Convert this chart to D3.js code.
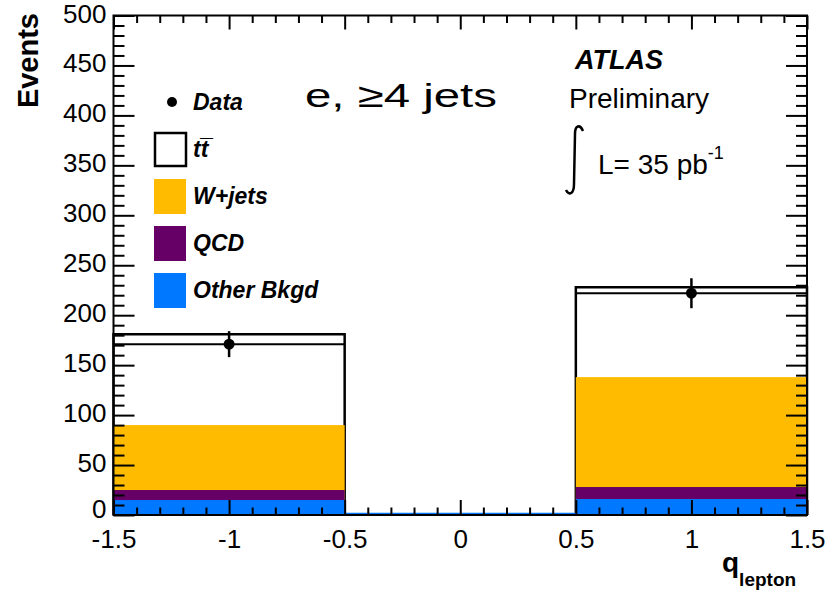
<!DOCTYPE html>
<html>
<head>
<meta charset="utf-8">
<script src="https://cdn.jsdelivr.net/npm/d3@7"></script>
<style>
  html, body { margin: 0; padding: 0; background: #fff; }
  svg { display: block; }
  text { font-family: "Liberation Sans", Arial, Helvetica, sans-serif; }
</style>
</head>
<body>
<svg id="chart" width="838" height="592"></svg>
<script>
// ---------------- data ----------------
const binEdges = [-1.5, -0.5, 0.5, 1.5];
const otherBkgd = [15, 0, 16];
const qcd = [10, 0, 12];
const wjets = [65, 0, 110];
const ttbar = [91, 0, 90];
const dataX = [-1, 1];
const dataY = [171, 222];
const dataErr = [13, 15];
const xTicks = [-1.5, -1, -0.5, 0, 0.5, 1, 1.5];
const yTicks = [0, 50, 100, 150, 200, 250, 300, 350, 400, 450, 500];
const seriesNames = ["Other Bkgd", "QCD", "W+jets", "tt"];
const seriesColors = ["#0078ff", "#660066", "#ffbb00", "#ffffff"];

// ---------------- layout ----------------
const svg = d3.select("#chart");
const W = 838, H = 592;
const pLeft = 113.5, pRight = 807, pTop = 15.5, pBottom = 515;

const x = d3.scaleLinear().domain([-1.5, 1.5]).range([pLeft, pRight]);
const y = d3.scaleLinear().domain([0, 500]).range([pBottom, pTop]);

svg.append("rect").attr("width", W).attr("height", H).attr("fill", "#fff");

const table = binEdges.slice(0, -1).map((e, i) => ({
  x0: e, x1: binEdges[i + 1],
  "Other Bkgd": otherBkgd[i], "QCD": qcd[i], "W+jets": wjets[i], "tt": ttbar[i]
}));
const stack = d3.stack().keys(seriesNames)(table);

const g = svg.append("g");

stack[3].forEach(d => {
  if (d[1] <= 0) return;
  g.append("path")
    .attr("d", `M${x(d.data.x0)},${y(0)} V${y(d[1])} H${x(d.data.x1)} V${y(0)}`)
    .attr("fill", "#fff").attr("stroke", "#000").attr("stroke-width", 2.5);
});

[2, 1, 0].forEach(k => {
  stack[k].forEach(d => {
    if (d[1] <= 0) return;
    g.append("rect")
      .attr("x", x(d.data.x0)).attr("width", x(d.data.x1) - x(d.data.x0))
      .attr("y", y(d[1])).attr("height", y(0) - y(d[1]))
      .attr("fill", seriesColors[k]);
  });
});

table.forEach(d => {
  const tot = d["Other Bkgd"] + d["QCD"] + d["W+jets"] + d["tt"];
  if (tot === 0) {
    g.append("line").attr("x1", x(d.x0)).attr("x2", x(d.x1))
      .attr("y1", y(0) - 1).attr("y2", y(0) - 1)
      .attr("stroke", "#0078ff").attr("stroke-width", 2.5);
  }
});

dataX.forEach((dx, i) => {
  const bi = d3.bisectRight(binEdges, dx) - 1;
  g.append("line").attr("x1", x(binEdges[bi])).attr("x2", x(binEdges[bi + 1]))
    .attr("y1", y(dataY[i])).attr("y2", y(dataY[i]))
    .attr("stroke", "#000").attr("stroke-width", 2);
  g.append("line").attr("x1", x(dx)).attr("x2", x(dx))
    .attr("y1", y(dataY[i] - dataErr[i])).attr("y2", y(dataY[i] + dataErr[i]))
    .attr("stroke", "#000").attr("stroke-width", 2.5);
  g.append("circle").attr("cx", x(dx)).attr("cy", y(dataY[i])).attr("r", 5.5).attr("fill", "#000");
});

// ---------------- axes ----------------
const minorX = d3.range(-15, 16).map(v => v / 10).filter(v => Math.abs(v * 2 - Math.round(v * 2)) > 1e-6);
const minorY = d3.range(0, 501, 10).filter(v => v % 50 !== 0);
const plainFmt = d => String(d);

function styleAxis(sel) {
  sel.select(".domain").remove();
  sel.selectAll(".tick line").attr("stroke", "#000").attr("stroke-width", 2);
  sel.selectAll("text").attr("fill", "#000").attr("font-size", 26)
    .attr("font-family", '"Liberation Sans", Arial, sans-serif');
}

svg.append("g").attr("transform", `translate(0,${pBottom})`)
  .call(d3.axisBottom(x).tickValues(xTicks).tickSize(-15).tickPadding(15).tickFormat(plainFmt))
  .call(styleAxis);
svg.append("g").attr("transform", `translate(0,${pBottom})`)
  .call(d3.axisBottom(x).tickValues(minorX).tickSize(-7.5).tickFormat(""))
  .call(styleAxis);
svg.append("g").attr("transform", `translate(0,${pTop})`)
  .call(d3.axisTop(x).tickValues(xTicks).tickSize(-14).tickFormat(""))
  .call(styleAxis);
svg.append("g").attr("transform", `translate(0,${pTop})`)
  .call(d3.axisTop(x).tickValues(minorX).tickSize(-7.5).tickFormat(""))
  .call(styleAxis);
const yAx = svg.append("g").attr("transform", `translate(${pLeft},0)`)
  .call(d3.axisLeft(y).tickValues(yTicks).tickSize(-21).tickPadding(7).tickFormat(plainFmt))
  .call(styleAxis);
yAx.selectAll("text").attr("dy", "0.25em");
yAx.selectAll(".tick").filter(d => d === 0).select("text").attr("y", -4);
svg.append("g").attr("transform", `translate(${pLeft},0)`)
  .call(d3.axisLeft(y).tickValues(minorY).tickSize(-11).tickFormat(""))
  .call(styleAxis);
svg.append("g").attr("transform", `translate(${pRight},0)`)
  .call(d3.axisRight(y).tickValues(yTicks).tickSize(-21).tickFormat(""))
  .call(styleAxis);
svg.append("g").attr("transform", `translate(${pRight},0)`)
  .call(d3.axisRight(y).tickValues(minorY).tickSize(-11).tickFormat(""))
  .call(styleAxis);

svg.append("rect").attr("x", pLeft).attr("y", pTop)
  .attr("width", pRight - pLeft).attr("height", pBottom - pTop)
  .attr("fill", "none").attr("stroke", "#000").attr("stroke-width", 2);

// ---------------- titles ----------------
svg.append("text")
  .attr("transform", `translate(38,13) rotate(-90)`)
  .attr("text-anchor", "end").attr("font-size", 29).attr("font-weight", "bold")
  .text("Events");

const xt = svg.append("text").attr("x", 722).attr("y", 572)
  .attr("font-size", 28).attr("font-weight", "bold");
xt.append("tspan").text("q");
xt.append("tspan").attr("dy", 14).attr("font-size", 19).text("lepton");

// ---------------- legend ----------------
const legRows = [
  { name: "Data", type: "dot" },
  { name: "tt", type: "box", color: "#fff" },
  { name: "W+jets", type: "box", color: seriesColors[2] },
  { name: "QCD", type: "box", color: seriesColors[1] },
  { name: "Other Bkgd", type: "box", color: seriesColors[0] }
];
const leg = svg.append("g");
legRows.forEach((r, i) => {
  const cy = 102 + i * 47;
  if (r.type === "dot") {
    leg.append("circle").attr("cx", 172).attr("cy", cy).attr("r", 5).attr("fill", "#000");
  } else if (r.name === "tt") {
    leg.append("rect").attr("x", 155).attr("y", cy - 16).attr("width", 31).attr("height", 33)
      .attr("fill", "#fff").attr("stroke", "#000").attr("stroke-width", 2.5);
  } else {
    leg.append("rect").attr("x", 154).attr("y", cy - 17).attr("width", 32).attr("height", 35)
      .attr("fill", r.color);
  }
  const t = leg.append("text").attr("x", 193).attr("y", cy + 8)
    .attr("font-size", 23).attr("font-weight", "bold").attr("font-style", "italic");
  if (r.name === "tt") {
    t.text("tt\u0305");
  } else {
    t.text(r.name);
  }
});

// channel label
svg.append("text").attr("x", 305).attr("y", 107)
  .attr("font-family", '"DejaVu Sans", sans-serif').attr("font-size", 34)
  .attr("textLength", 192).attr("lengthAdjust", "spacingAndGlyphs")
  .text("e, ≥4 jets");

// ATLAS labels
svg.append("text").attr("x", 575).attr("y", 69)
  .attr("font-size", 27).attr("font-weight", "bold").attr("font-style", "italic")
  .text("ATLAS");
svg.append("text").attr("x", 569).attr("y", 108)
  .attr("font-size", 28).text("Preliminary");
svg.append("path")
  .attr("d", "M583,131 C580,124 575,125 575,134 L574,184 C574,194 569,196 566,190")
  .attr("fill", "none").attr("stroke", "#000").attr("stroke-width", 2.5);
const lum = svg.append("text").attr("x", 598).attr("y", 174).attr("font-size", 28);
lum.append("tspan").text("L= 35 pb");
lum.append("tspan").attr("dy", -15).attr("font-size", 18).text("-1");
</script>
</body>
</html>
